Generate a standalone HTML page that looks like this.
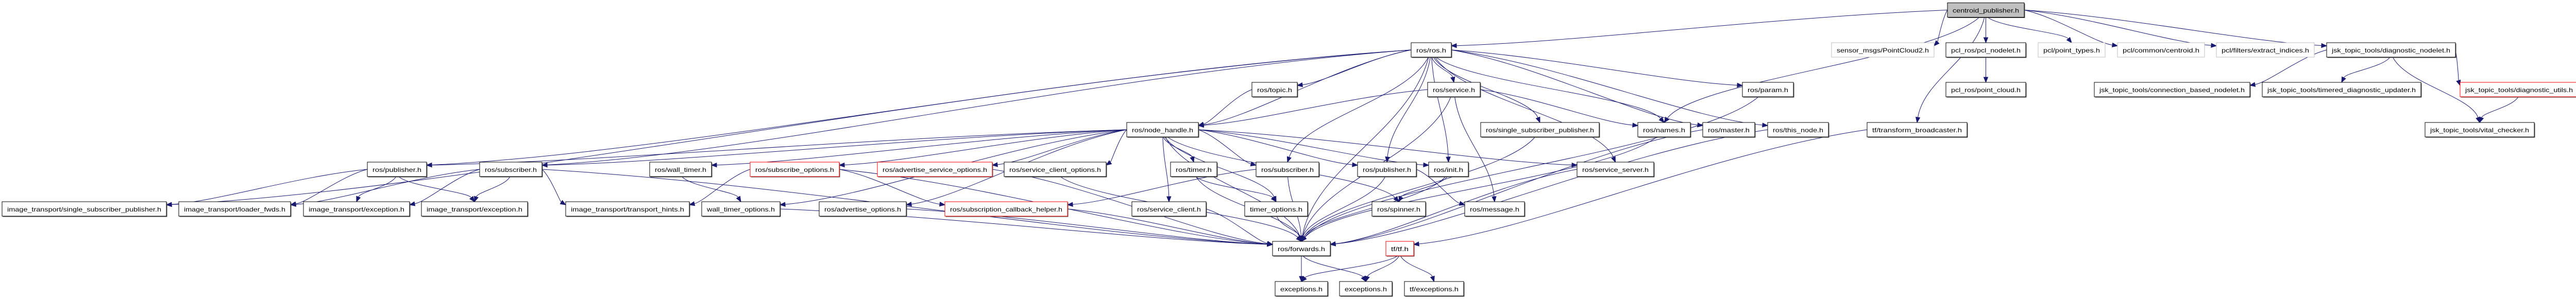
<!DOCTYPE html>
<html><head><meta charset="utf-8"><style>
html,body{margin:0;padding:0;background:#fff;width:5009px;height:581px;overflow:hidden}
svg text{font-family:"Liberation Sans",sans-serif;font-size:12px}
</style></head><body>
<svg id="g" xmlns="http://www.w3.org/2000/svg" width="5009" height="581" viewBox="0 0 5009 581"></svg>
<script>
var R=[5.5,83,160,238,315,392,469,547],H=28;
// id: [label, x1, x2, row, style]  style: n normal, g gray-border, r red, root
var N={
root:["centroid_publisher.h",3780,3929,0,"root"],
ros:["ros/ros.h",2739,2817,1,"n"],
pc2:["sensor_msgs/PointCloud2.h",3555,3754,1,"g"],
pcln:["pcl_ros/pcl_nodelet.h",3777,3932,1,"n"],
ptt:["pcl/point_types.h",3956,4086,1,"g"],
cen:["pcl/common/centroid.h",4110,4279,1,"g"],
ext:["pcl/filters/extract_indices.h",4302,4492,1,"g"],
dn:["jsk_topic_tools/diagnostic_nodelet.h",4516,4766,1,"n"],
topic:["ros/topic.h",2430,2518,2,"n"],
srv:["ros/service.h",2771,2873,2,"n"],
param:["ros/param.h",3382,3481,2,"n"],
pcd:["pcl_ros/point_cloud.h",3777,3932,2,"n"],
cbn:["jsk_topic_tools/connection_based_nodelet.h",4065,4367,2,"n"],
tdu:["jsk_topic_tools/timered_diagnostic_updater.h",4391,4699,2,"n"],
du:["jsk_topic_tools/diagnostic_utils.h",4775,5004,2,"r"],
nh:["ros/node_handle.h",2187,2326,3,"n"],
ssp:["ros/single_subscriber_publisher.h",2874,3104,3,"n"],
names:["ros/names.h",3179,3281,3,"n"],
master:["ros/master.h",3305,3406,3,"n"],
tn:["ros/this_node.h",3431,3549,3,"n"],
tb:["tf/transform_broadcaster.h",3624,3818,3,"n"],
vc:["jsk_topic_tools/vital_checker.h",4707,4919,3,"n"],
pub1:["ros/publisher.h",713,828,4,"n"],
sub1:["ros/subscriber.h",931,1052,4,"n"],
wt:["ros/wall_timer.h",1261,1381,4,"n"],
so:["ros/subscribe_options.h",1456,1629,4,"r"],
aso:["ros/advertise_service_options.h",1703,1926,4,"r"],
sco:["ros/service_client_options.h",1949,2147,4,"n"],
timer:["ros/timer.h",2272,2362,4,"n"],
sub2:["ros/subscriber.h",2438,2560,4,"n"],
pub2:["ros/publisher.h",2635,2749,4,"n"],
init:["ros/init.h",2773,2850,4,"n"],
ss:["ros/service_server.h",3061,3210,4,"n"],
itssp:["image_transport/single_subscriber_publisher.h",4,323,5,"n"],
itlf:["image_transport/loader_fwds.h",347,564,5,"n"],
ite1:["image_transport/exception.h",589,795,5,"n"],
ite2:["image_transport/exception.h",818,1024,5,"n"],
itth:["image_transport/transport_hints.h",1098,1338,5,"n"],
wto:["wall_timer_options.h",1362,1514,5,"n"],
ao:["ros/advertise_options.h",1590,1759,5,"n"],
sch:["ros/subscription_callback_helper.h",1834,2072,5,"r"],
sc:["ros/service_client.h",2197,2341,5,"n"],
to:["timer_options.h",2416,2538,5,"n"],
spin:["ros/spinner.h",2663,2767,5,"n"],
msg:["ros/message.h",2843,2959,5,"n"],
fw:["ros/forwards.h",2470,2582,6,"n"],
tf:["tf/tf.h",2690,2744,6,"r"],
ex1:["exceptions.h",2475,2577,7,"n"],
ex2:["exceptions.h",2600,2702,7,"n"],
tfex:["tf/exceptions.h",2726,2841,7,"n"]
};
var E=[
["root","ros"],["root","pc2"],["root","pcln"],["root","ptt"],["root","cen"],["root","ext"],["root","dn"],["root","names"],["root","tb"],
["pcln","pcd"],["dn","cbn"],["dn","tdu"],["dn","vc"],["dn","du"],["du","vc"],
["ros","pub1"],["ros","sub1"],["ros","itssp"],["ros","topic"],["ros","nh"],["ros","srv"],["ros","sub2"],["ros","pub2"],["ros","init"],["ros","ssp"],["ros","ss"],["ros","names"],["ros","master"],["ros","tn"],["ros","param"],["ros","fw"],
["topic","nh"],["srv","nh"],["srv","names"],["srv","fw"],["srv","msg"],
["nh","pub1"],["nh","sub1"],["nh","wt"],["nh","so"],["nh","aso"],["nh","sco"],["nh","timer"],["nh","sub2"],["nh","pub2"],["nh","init"],["nh","ss"],["nh","spin"],["nh","wto"],["nh","ao"],["nh","sc"],["nh","to"],["nh","fw"],
["pub1","itssp"],["pub1","itlf"],["pub1","ite1"],["pub1","ite2"],
["sub1","itlf"],["sub1","ite1"],["sub1","ite2"],["sub1","itth"],["sub1","fw"],
["wt","wto"],["so","itth"],["so","sch"],["so","fw"],["aso","fw"],["sco","fw"],["timer","to"],["timer","fw"],
["sub2","sch"],["sub2","fw"],["pub2","fw"],["pub2","msg"],["init","spin"],["init","fw"],["ss","fw"],
["wto","fw"],["ao","fw"],["sch","fw"],["sc","fw"],["to","fw"],
["names","fw"],["master","fw"],["tn","fw"],["param","fw"],["ssp","fw"],
["fw","ex1"],["fw","ex2"],["tf","ex1"],["tf","ex2"],["tf","tfex"],["tb","tf"]
];
var svg=document.getElementById("g"),ns="http://www.w3.org/2000/svg",out="";
var C="#191970";
function cx(n){return (n[1]+n[2])/2}
E.forEach(function(e){
 var s=N[e[0]],t=N[e[1]];
 var sx=cx(s),sy=R[s[3]]+H,tx=cx(t),ty=R[t[3]];
 var dy=ty-sy, far=Math.abs(tx-sx)>4*Math.max(dy,20);
 var c1x,c1y,c2x,c2y;
 if(t[3]==s[3]+0||far){
  // attach at sides
  if(tx<sx){sx=s[1];tx=t[2];}else{sx=s[2];tx=t[1];}
  sy=R[s[3]]+H/2;ty=R[t[3]]+H/2;
  if(t[3]>s[3]){ty=R[t[3]]+6;}
  c1x=sx+(tx-sx)*0.35;c1y=sy+(ty-sy)*0.2;c2x=sx+(tx-sx)*0.75;c2y=ty-(ty-sy)*0.1;
 } else {
  if(e[0]==e[0]){sx=sx+(tx-sx)*0.02*(1); }
  c1x=sx+(tx-sx)*0.15;c1y=sy+dy*0.4;c2x=tx-(tx-sx)*0.1;c2y=ty-dy*0.4;
 }
 // shorten for arrow
 var ang=Math.atan2(ty-c2y,tx-c2x),L=10,W=4;
 var bx=tx-L*Math.cos(ang),by=ty-L*Math.sin(ang);
 out+='<path d="M'+sx.toFixed(1)+','+sy.toFixed(1)+' C'+c1x.toFixed(1)+','+c1y.toFixed(1)+' '+c2x.toFixed(1)+','+c2y.toFixed(1)+' '+bx.toFixed(1)+','+by.toFixed(1)+'" fill="none" stroke="'+C+'" stroke-width="1"/>';
 var px=-Math.sin(ang)*W,py=Math.cos(ang)*W;
 out+='<polygon points="'+tx.toFixed(1)+','+ty.toFixed(1)+' '+(bx+px).toFixed(1)+','+(by+py).toFixed(1)+' '+(bx-px).toFixed(1)+','+(by-py).toFixed(1)+'" fill="'+C+'" stroke="'+C+'"/>';
});
for(var k in N){
 var n=N[k],x=n[1],y=R[n[3]],w=n[2]-n[1],st=n[4];
 var stroke=st=="g"?"#bfbfbf":st=="r"?"#ff0000":"#000",fill=st=="root"?"#bfbfbf":"#fff";
 if(st!="g") out+='<rect x="'+(x+1.5)+'" y="'+(y+1.5)+'" width="'+w+'" height="'+H+'" fill="#555"/>';
 out+='<rect x="'+x+'" y="'+y+'" width="'+w+'" height="'+H+'" fill="'+fill+'" stroke="'+stroke+'" stroke-width="1"/>';
 out+='<text x="'+(x+10)+'" y="'+(y+19)+'" textLength="'+(w-20)+'" lengthAdjust="spacingAndGlyphs" fill="#000">'+n[0]+'</text>';
}
svg.innerHTML=out;
</script>
</body></html>
